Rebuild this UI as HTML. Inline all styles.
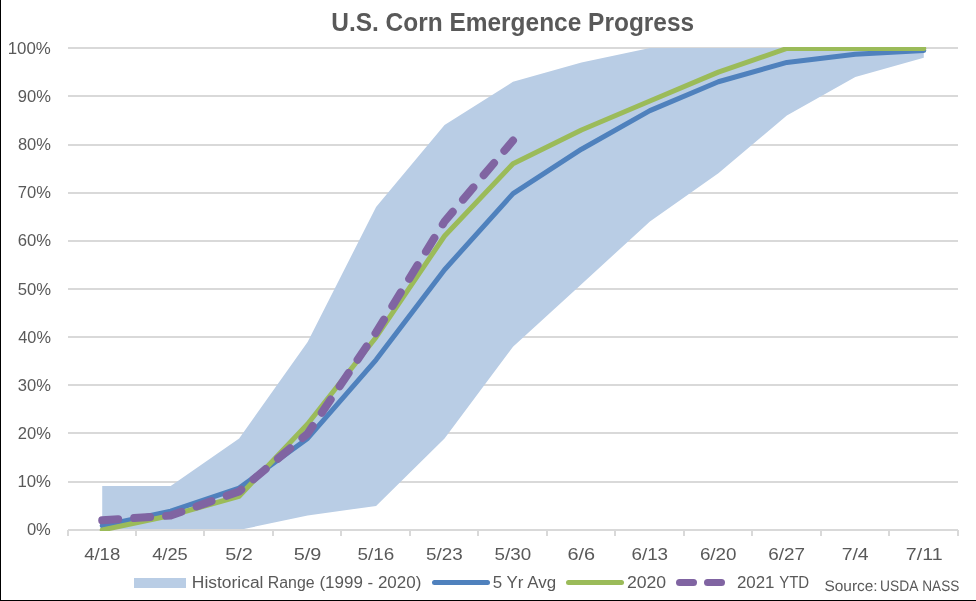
<!DOCTYPE html>
<html><head><meta charset="utf-8"><title>U.S. Corn Emergence Progress</title>
<style>
html,body{margin:0;padding:0;background:#fff;}
body{width:976px;height:601px;overflow:hidden;position:relative;font-family:"Liberation Sans",sans-serif;}
svg{position:absolute;left:0;top:0;display:block;will-change:transform;}
text{font-family:"Liberation Sans",sans-serif;fill:#595959;}
</style></head><body>
<svg width="976" height="601" viewBox="0 0 976 601">
<rect x="0" y="0" width="976" height="601" fill="#ffffff"/>
<defs><clipPath id="pc"><rect x="67" y="47" width="892" height="484"/></clipPath></defs>

<rect x="68.0" y="481" width="890.0" height="2" fill="#D9D9D9"/>
<rect x="68.0" y="432" width="890.0" height="2" fill="#D9D9D9"/>
<rect x="68.0" y="384" width="890.0" height="2" fill="#D9D9D9"/>
<rect x="68.0" y="336" width="890.0" height="2" fill="#D9D9D9"/>
<rect x="68.0" y="288" width="890.0" height="2" fill="#D9D9D9"/>
<rect x="68.0" y="240" width="890.0" height="2" fill="#D9D9D9"/>
<rect x="68.0" y="192" width="890.0" height="2" fill="#D9D9D9"/>
<rect x="68.0" y="144" width="890.0" height="2" fill="#D9D9D9"/>
<rect x="68.0" y="95" width="890.0" height="2" fill="#D9D9D9"/>
<rect x="68.0" y="47" width="890.0" height="2" fill="#D9D9D9"/>
<polygon points="102.23,486.04 170.69,486.04 239.15,438.42 307.62,342.02 376.08,207.06 444.54,125.12 513.00,81.74 581.46,62.46 649.92,48.00 718.38,48.00 786.85,48.00 855.31,48.00 923.77,48.00 923.77,57.64 855.31,76.92 786.85,115.48 718.38,173.32 649.92,221.52 581.46,284.18 513.00,346.84 444.54,438.42 376.08,505.90 307.62,515.54 239.15,530.00 170.69,530.00 102.23,530.00" fill="#B9CDE5"/>
<rect x="68.0" y="529.0" width="890.0" height="2" fill="#D9D9D9"/>
<rect x="67" y="530.0" width="2" height="6" fill="#D9D9D9"/>
<rect x="135" y="530.0" width="2" height="6" fill="#D9D9D9"/>
<rect x="203" y="530.0" width="2" height="6" fill="#D9D9D9"/>
<rect x="272" y="530.0" width="2" height="6" fill="#D9D9D9"/>
<rect x="340" y="530.0" width="2" height="6" fill="#D9D9D9"/>
<rect x="409" y="530.0" width="2" height="6" fill="#D9D9D9"/>
<rect x="477" y="530.0" width="2" height="6" fill="#D9D9D9"/>
<rect x="546" y="530.0" width="2" height="6" fill="#D9D9D9"/>
<rect x="614" y="530.0" width="2" height="6" fill="#D9D9D9"/>
<rect x="683" y="530.0" width="2" height="6" fill="#D9D9D9"/>
<rect x="751" y="530.0" width="2" height="6" fill="#D9D9D9"/>
<rect x="820" y="530.0" width="2" height="6" fill="#D9D9D9"/>
<rect x="888" y="530.0" width="2" height="6" fill="#D9D9D9"/>
<rect x="957" y="530.0" width="2" height="6" fill="#D9D9D9"/>
<polyline points="102.23,525.66 170.69,511.20 239.15,488.07 307.62,438.42 376.08,359.85 444.54,269.72 513.00,193.56 581.46,149.22 649.92,110.66 718.38,81.74 786.85,62.46 855.31,54.27 923.77,50.41" fill="none" stroke="#4F81BD" stroke-width="5" stroke-linecap="round" stroke-linejoin="round" clip-path="url(#pc)"/>
<polyline points="102.23,530.00 170.69,515.54 239.15,496.26 307.62,423.96 376.08,337.20 444.54,235.98 513.00,163.68 581.46,129.94 649.92,101.02 718.38,72.10 786.85,48.48 855.31,48.48 923.77,48.48" fill="none" stroke="#9BBB59" stroke-width="5" stroke-linecap="round" stroke-linejoin="round" clip-path="url(#pc)"/>
<polyline points="102.23,520.36 170.69,515.54 239.15,491.44 307.62,433.60 376.08,332.38 444.54,221.52 513.00,140.54" fill="none" stroke="#8064A2" stroke-width="8" stroke-linecap="round" stroke-linejoin="round" stroke-dasharray="16 16" clip-path="url(#pc)"/>
<text x="26.90" y="535.00" font-size="16" textLength="23.93" lengthAdjust="spacingAndGlyphs">0%</text>
<text x="17.40" y="486.91" font-size="16" textLength="33.59" lengthAdjust="spacingAndGlyphs">10%</text>
<text x="17.86" y="438.82" font-size="16" textLength="33.12" lengthAdjust="spacingAndGlyphs">20%</text>
<text x="17.86" y="390.73" font-size="16" textLength="33.12" lengthAdjust="spacingAndGlyphs">30%</text>
<text x="18.30" y="342.64" font-size="16" textLength="32.67" lengthAdjust="spacingAndGlyphs">40%</text>
<text x="17.66" y="294.55" font-size="16" textLength="33.33" lengthAdjust="spacingAndGlyphs">50%</text>
<text x="17.66" y="246.46" font-size="16" textLength="33.33" lengthAdjust="spacingAndGlyphs">60%</text>
<text x="17.84" y="198.37" font-size="16" textLength="33.14" lengthAdjust="spacingAndGlyphs">70%</text>
<text x="17.94" y="150.28" font-size="16" textLength="33.04" lengthAdjust="spacingAndGlyphs">80%</text>
<text x="17.86" y="102.19" font-size="16" textLength="33.12" lengthAdjust="spacingAndGlyphs">90%</text>
<text x="7.76" y="54.10" font-size="16" textLength="43.11" lengthAdjust="spacingAndGlyphs">100%</text>
<text x="84.15" y="560.00" font-size="16" textLength="36.10" lengthAdjust="spacingAndGlyphs">4/18</text>
<text x="152.16" y="560.00" font-size="16" textLength="35.57" lengthAdjust="spacingAndGlyphs">4/25</text>
<text x="225.26" y="560.00" font-size="16" textLength="27.67" lengthAdjust="spacingAndGlyphs">5/2</text>
<text x="293.72" y="560.00" font-size="16" textLength="27.66" lengthAdjust="spacingAndGlyphs">5/9</text>
<text x="357.60" y="560.00" font-size="16" textLength="36.67" lengthAdjust="spacingAndGlyphs">5/16</text>
<text x="426.06" y="560.00" font-size="16" textLength="36.65" lengthAdjust="spacingAndGlyphs">5/23</text>
<text x="494.53" y="560.00" font-size="16" textLength="36.56" lengthAdjust="spacingAndGlyphs">5/30</text>
<text x="567.57" y="560.00" font-size="16" textLength="27.62" lengthAdjust="spacingAndGlyphs">6/6</text>
<text x="631.45" y="560.00" font-size="16" textLength="36.65" lengthAdjust="spacingAndGlyphs">6/13</text>
<text x="699.91" y="560.00" font-size="16" textLength="36.56" lengthAdjust="spacingAndGlyphs">6/20</text>
<text x="768.37" y="560.00" font-size="16" textLength="36.72" lengthAdjust="spacingAndGlyphs">6/27</text>
<text x="841.65" y="560.00" font-size="16" textLength="27.01" lengthAdjust="spacingAndGlyphs">7/4</text>
<text x="905.89" y="560.00" font-size="16" textLength="36.68" lengthAdjust="spacingAndGlyphs">7/11</text>
<text x="331.22" y="30.70" font-size="26" font-weight="bold" textLength="362.94" lengthAdjust="spacingAndGlyphs">U.S. Corn Emergence Progress</text>
<text x="191.85" y="588.00" font-size="16" textLength="71.63" lengthAdjust="spacingAndGlyphs">Historical</text>
<text x="267.78" y="588.00" font-size="16" textLength="46.79" lengthAdjust="spacingAndGlyphs">Range</text>
<text x="319.41" y="588.00" font-size="16" textLength="101.92" lengthAdjust="spacingAndGlyphs">(1999 - 2020)</text>
<text x="492.74" y="588.00" font-size="16" textLength="63.31" lengthAdjust="spacingAndGlyphs">5 Yr Avg</text>
<text x="626.90" y="588.00" font-size="16" textLength="39.28" lengthAdjust="spacingAndGlyphs">2020</text>
<text x="736.94" y="588.00" font-size="16" textLength="37.54" lengthAdjust="spacingAndGlyphs">2021</text>
<text x="779.17" y="588.00" font-size="16" textLength="30.03" lengthAdjust="spacingAndGlyphs">YTD</text>
<text x="824.44" y="591.00" font-size="15.2" style="text-rendering:geometricPrecision" textLength="53.23" lengthAdjust="spacingAndGlyphs">Source:</text>
<text x="880.02" y="591.00" font-size="15.2" style="text-rendering:geometricPrecision" textLength="38.38" lengthAdjust="spacingAndGlyphs">USDA</text>
<text x="922.26" y="591.00" font-size="15.2" style="text-rendering:geometricPrecision" textLength="37.16" lengthAdjust="spacingAndGlyphs">NASS</text>
<rect x="134" y="578" width="52" height="10" fill="#B9CDE5"/>
<line x1="434.5" y1="582.5" x2="487.5" y2="582.5" stroke="#4F81BD" stroke-width="5" stroke-linecap="round"/>
<line x1="568.5" y1="582.5" x2="621.5" y2="582.5" stroke="#9BBB59" stroke-width="5" stroke-linecap="round"/>
<line x1="679.5" y1="582.5" x2="693.5" y2="582.5" stroke="#8064A2" stroke-width="7" stroke-linecap="round"/>
<line x1="707.5" y1="582.5" x2="721.5" y2="582.5" stroke="#8064A2" stroke-width="7" stroke-linecap="round"/>
<rect x="0" y="0" width="1" height="601" fill="#000"/>
<rect x="0" y="600" width="976" height="1" fill="#000"/>
</svg></body></html>
